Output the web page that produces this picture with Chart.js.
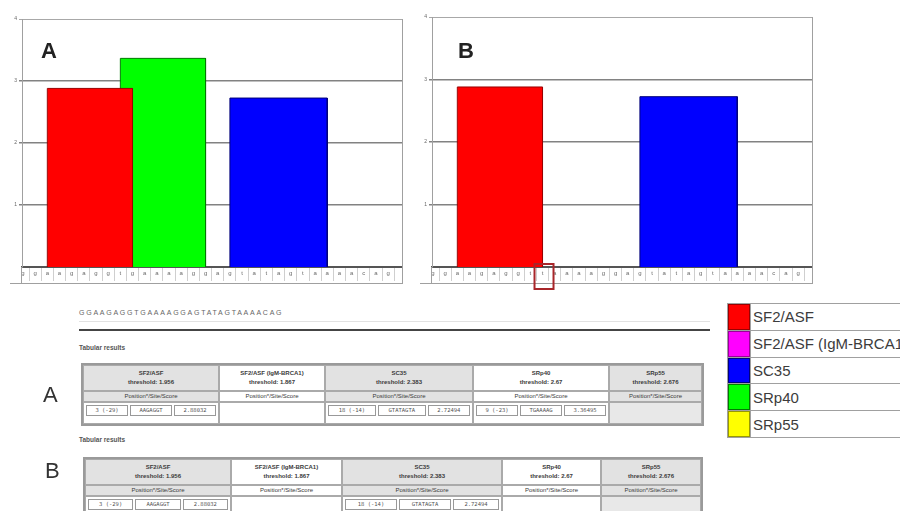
<!DOCTYPE html>
<html>
<head>
<meta charset="utf-8">
<script src="https://cdn.jsdelivr.net/npm/chart.js@4/dist/chart.umd.min.js"></script>
<style>
html,body{margin:0;padding:0;background:#fff;}
body{width:900px;height:511px;overflow:hidden;position:relative;font-family:"Liberation Sans",Arial,sans-serif;}
canvas{position:absolute;top:0;}
#cA{left:0;} #cB{left:410px;}
.panel{position:absolute;font-weight:bold;font-size:22px;line-height:22px;color:#222;}
.side{position:absolute;font-size:22px;line-height:22px;color:#333;}
#seq{position:absolute;left:79px;top:309px;font-size:7px;letter-spacing:1.75px;color:#666;}
#ruleThin{position:absolute;left:79px;top:321px;width:631px;height:1px;background:#e2e2e2;}
#rule{position:absolute;left:79px;top:329px;width:631px;height:2px;background:#444;}
.tab{position:absolute;font-size:6.5px;font-weight:bold;color:#555;}
table.res{position:absolute;border-collapse:separate;border-spacing:0;border:2px solid #9a9a9a;table-layout:fixed;font-size:6px;color:#3a3a3a;}
table.res td{border:1px solid #aaa;text-align:center;padding:0;overflow:hidden;white-space:nowrap;}
table.res tr.h td{height:24px;font-weight:bold;line-height:9px;}
table.res tr.p td{height:9px;line-height:9px;}
table.res tr.d td{height:20px;vertical-align:top;}
table.in{width:100%;border-collapse:separate;border-spacing:2px 2px;font-family:"DejaVu Sans Mono",monospace;font-size:5.5px;color:#555;}
table.in td{border:1px solid #999 !important;height:9px !important;line-height:9px;}
#legend{position:absolute;left:727px;top:303px;border-collapse:collapse;table-layout:fixed;width:200px;font-size:15px;color:#3c3c3c;}
#legend td{border:1px solid #a0a0a0;height:25.8px;padding:0;}
#legend td.lb{padding-left:2px;white-space:nowrap;overflow:hidden;}
</style>
</head>
<body>
<canvas id="cA" width="410" height="292"></canvas>
<canvas id="cB" width="410" height="292"></canvas>
<div class="panel" style="left:41px;top:40px;">A</div>
<div class="panel" style="left:458px;top:40px;">B</div>
<div id="seq"></div>
<div id="ruleThin"></div>
<div id="rule"></div>
<div class="tab" style="left:79px;top:344px;">Tabular results</div>
<div class="side" style="left:43px;top:384px;">A</div>
<table class="res" id="tA" style="left:81px;top:363px;"></table>
<div class="tab" style="left:79px;top:436px;">Tabular results</div>
<div class="side" style="left:45px;top:460px;">B</div>
<table class="res" id="tB" style="left:83px;top:457px;"></table>
<table id="legend"><colgroup><col style="width:23px"><col style="width:177px"></colgroup><tbody id="legendBody"></tbody></table>
<script>
// Analysed sequence (wild type A, variant B with one substituted base)
const seqA = ['g','g','a','a','g','a','g','g','t','g','a','a','a','a','g','g','a','g','t','a','t','a','g','t','a','a','a','a','c','a','g'];
const seqB = ['g','g','a','a','g','a','g','g','t','t','a','a','a','a','g','g','a','g','t','a','t','a','g','t','a','a','a','a','c','a','g'];
const mutatedPosB = 10;          // 1-based position of the substituted base
const positionOffset = 32;       // position shown in brackets = position - offset

// SR protein matrices
const motifNames  = ['SF2/ASF', 'SF2/ASF (IgM-BRCA1)', 'SC35', 'SRp40', 'SRp55'];
const motifFill   = ['#ff0000', '#ff00ff', '#0000ff', '#00ff00', '#ffff00'];
const motifEdge   = ['#9a0000', '#990099', '#00007a', '#007a00', '#999900'];
const thresholds  = ['1.956', '1.867', '2.383', '2.67', '2.676'];

// Sites above threshold, sequence A
const hitTypeA  = [0, 3, 2];
const hitPosA   = [3, 9, 18];
const hitSiteA  = ['AAGAGGT', 'TGAAAAG', 'GTATAGTA'];
const hitScoreA = [2.88032, 3.36495, 2.72494];

// Sites above threshold, sequence B
const hitTypeB  = [0, 2];
const hitPosB   = [3, 18];
const hitSiteB  = ['AAGAGGT', 'GTATAGTA'];
const hitScoreB = [2.88032, 2.72494];

const yTicks = [0, 1, 2, 3, 4];

function siteDatasets(types, pos, sites, scores) {
  return types.map((t, i) => {
    const s = pos[i] - 1, e = s + sites[i].length;
    return {
      label: motifNames[t],
      showLine: true,
      fill: 'origin',
      backgroundColor: motifFill[t],
      borderColor: motifEdge[t],
      borderWidth: 1,
      pointRadius: 0,
      tension: 0,
      data: [{x: s, y: 0}, {x: s, y: scores[i]}, {x: e, y: scores[i]}, {x: e, y: 0}]
    };
  });
}

const framePlugin = {
  id: 'frame',
  afterDraw(chart, args, opts) {
    const ctx = chart.ctx, a = chart.chartArea, xs = chart.scales.x;
    ctx.save();
    ctx.strokeStyle = '#a0a0a0';
    ctx.lineWidth = 1;
    ctx.beginPath();
    ctx.moveTo(a.right + 0.5, a.top); ctx.lineTo(a.right + 0.5, xs.bottom);
    ctx.moveTo(a.left - 0.5, a.bottom); ctx.lineTo(a.left - 0.5, xs.bottom);
    ctx.moveTo(a.left - 12, xs.bottom + 0.5); ctx.lineTo(a.right + 1, xs.bottom + 0.5);
    ctx.stroke();
    if (opts.mark) {
      const px = xs.getPixelForValue(opts.mark - 1);
      ctx.strokeStyle = '#a8262a';
      ctx.lineWidth = 2;
      ctx.strokeRect(px - 8, a.bottom - 3, 19, 25);
    }
    ctx.restore();
  }
};

function makeChart(id, seq, datasets, topPad, mark) {
  return new Chart(document.getElementById(id), {
    type: 'scatter',
    data: { datasets },
    plugins: [framePlugin],
    options: {
      responsive: false,
      animation: false,
      layout: { padding: { top: topPad, right: 8, bottom: 9, left: 0 } },
      plugins: { legend: { display: false }, tooltip: { enabled: false }, frame: { mark } },
      scales: {
        x: {
          type: 'linear', min: -0.08, max: 31.14,
          afterBuildTicks: sc => { sc.ticks = []; for (let k = 0; k <= 62; k++) sc.ticks.push({ value: k / 2 }); },
          afterFit: sc => { sc.height = 16; },
          ticks: {
            autoSkip: false, maxRotation: 0, minRotation: 0, padding: -11,
            font: { size: 6, family: 'Liberation Sans' }, color: '#6a6a6a',
            callback: v => Number.isInteger(v) ? (seq[v] || '') : ''
          },
          grid: {
            drawOnChartArea: false, tickLength: 14, lineWidth: 1,
            color: c => (c.tick && !Number.isInteger(c.tick.value)) ? '#cfcfcf' : 'rgba(0,0,0,0)'
          },
          border: { color: '#555', width: 2 }
        },
        y: {
          type: 'linear', min: 0, max: 4,
          afterBuildTicks: sc => { sc.ticks = yTicks.map(v => ({ value: v })); },
          afterFit: sc => { sc.width = 22; },
          ticks: { padding: 2, font: { size: 5 }, color: '#666', callback: v => v === 0 ? '' : String(v) },
          grid: {
            tickLength: 3,
            color: c => c.tick.value === 0 ? 'rgba(0,0,0,0)' : (c.tick.value === 4 ? '#a8a8a8' : '#828282'),
            lineWidth: c => c.tick.value === 4 ? 1 : 1.5
          },
          border: { color: '#a0a0a0', width: 1 }
        }
      }
    }
  });
}

makeChart('cA', seqA, siteDatasets(hitTypeA, hitPosA, hitSiteA, hitScoreA), 19, null);
makeChart('cB', seqB, siteDatasets(hitTypeB, hitPosB, hitSiteB, hitScoreB), 17, mutatedPosB);

document.getElementById('seq').textContent = seqA.join('').toUpperCase();

// Result tables
const shadeHead = ['#e2e2e2', '#ffffff', '#e2e2e2', '#ffffff', '#e2e2e2'];
function buildTable(id, widths, types, pos, sites, scores) {
  const t = document.getElementById(id);
  let html = '<colgroup>' + widths.map(w => '<col style="width:' + w + 'px">').join('') + '</colgroup>';
  html += '<tr class="h">' + motifNames.map((n, i) =>
    '<td style="background:' + shadeHead[i] + '">' + n + '<br>threshold: ' + thresholds[i] + '</td>').join('') + '</tr>';
  html += '<tr class="p">' + motifNames.map((n, i) =>
    '<td style="background:' + shadeHead[i] + '">Position*/Site/Score</td>').join('') + '</tr>';
  html += '<tr class="d">' + motifNames.map((n, i) => {
    const k = types.indexOf(i);
    const bg = i === 4 ? '#e8e8e8' : '#ffffff';
    if (k < 0) return '<td style="background:' + bg + '"></td>';
    return '<td style="background:' + bg + '"><table class="in"><tr><td>' + pos[k] + ' (' + (pos[k] - positionOffset) +
      ')</td><td>' + sites[k] + '</td><td>' + scores[k].toFixed(5) + '</td></tr></table></td>';
  }).join('') + '</tr>';
  t.innerHTML = html;
}
buildTable('tA', [136, 106, 148, 136, 93], hitTypeA, hitPosA, hitSiteA, hitScoreA);
buildTable('tB', [146, 111, 160, 99, 100], hitTypeB, hitPosB, hitSiteB, hitScoreB);

// Colour key
document.getElementById('legendBody').innerHTML = motifNames.map((n, i) =>
  '<tr><td style="background:' + motifFill[i] + ';box-shadow:inset 0 0 0 1px ' + motifEdge[i] + '"></td><td class="lb">' + n + '</td></tr>').join('');
</script>
</body>
</html>
